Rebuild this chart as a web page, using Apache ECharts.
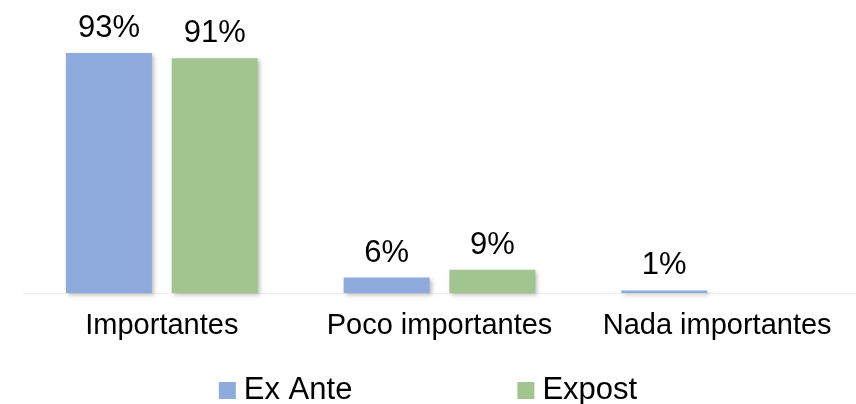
<!DOCTYPE html>
<html>
<head>
<meta charset="utf-8">
<script src="https://cdn.jsdelivr.net/npm/echarts@6/dist/echarts.min.js"></script>
<style>html,body{margin:0;padding:0;background:#fff}#c{width:856px;height:404px}</style>
</head>
<body>
<div id="c"></div>
<script>
const categories = ['Importantes', 'Poco importantes', 'Nada importantes'];
const exAnte = [93, 6, 1];
const expost = [91, 9, 0];
const seriesNames = ['Ex Ante', 'Expost'];

const FONT = '"Liberation Sans", Arial, sans-serif';
const chart = echarts.init(document.getElementById('c'), null, {renderer: 'canvas'});
const labelCfg = {
  show: true, position: 'top', distance: 9,
  color: '#000', fontSize: 31, fontFamily: FONT,
  formatter: p => (p.value ? p.value + '%' : '')
};
const shadow = {shadowBlur: 4, shadowOffsetX: 2, shadowOffsetY: 2, shadowColor: 'rgba(0,0,0,0.25)'};
chart.setOption({
  animation: false,
  backgroundColor: '#fff',
  grid: {left: 23, right: 0, top: 35, bottom: 111, containLabel: false},
  legend: {
    data: seriesNames, left: 'center', top: 370,
    itemWidth: 17, itemHeight: 17, itemGap: 165,
    icon: 'rect',
    textStyle: {fontSize: 31, fontFamily: FONT, color: '#000', padding: [0, 0, 0, 3]}
  },
  xAxis: {
    type: 'category', data: categories,
    axisLine: {show: true, lineStyle: {color: '#eeeeee', width: 1}},
    axisTick: {show: false},
    axisLabel: {color: '#000', fontSize: 29, fontFamily: FONT, margin: 18, interval: 0}
  },
  yAxis: {type: 'value', min: 0, max: 100, show: false, splitLine: {show: false}},
  series: [
    {name: seriesNames[0], type: 'bar', data: exAnte, barWidth: 86, barGap: '23%',
     itemStyle: Object.assign({color: '#8FAADC'}, shadow), label: labelCfg},
    {name: seriesNames[1], type: 'bar', data: expost, barWidth: 86, barGap: '23%',
     itemStyle: Object.assign({color: '#A2C590'}, shadow), label: labelCfg}
  ]
});
</script>
</body>
</html>
